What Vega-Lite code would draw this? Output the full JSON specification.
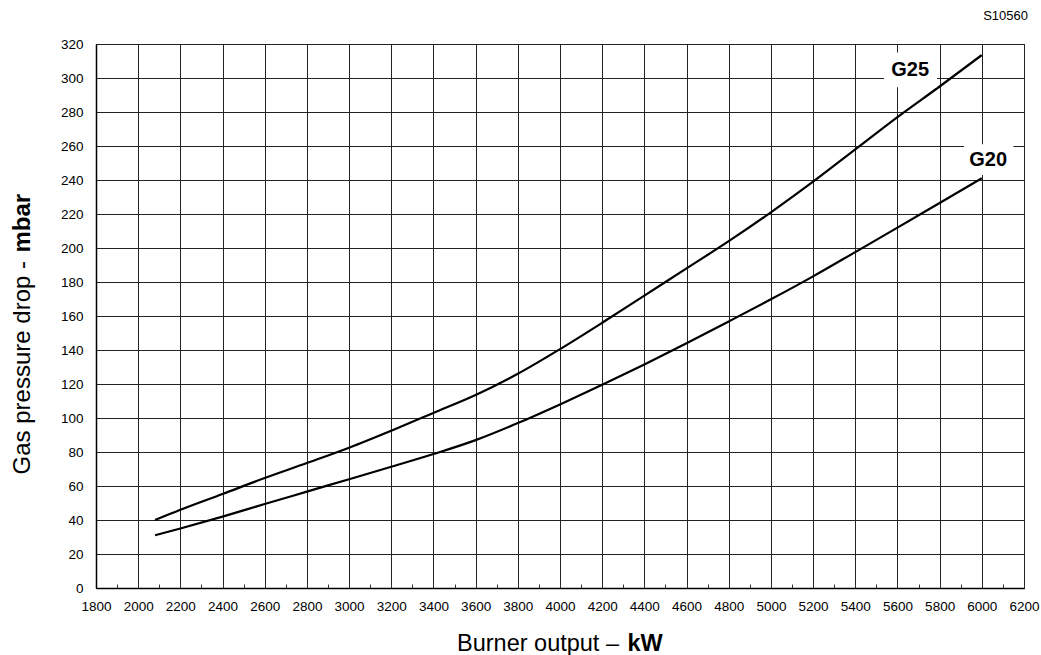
{
  "$schema": "https://vega.github.io/schema/vega-lite/v6.json",
  "autosize": "none",
  "padding": {"left": 96, "top": 44, "right": 17, "bottom": 67},
  "width": 928,
  "height": 544,
  "background": "white",
  "config": {
    "font": "Liberation Sans",
    "view": {"stroke": "black", "strokeWidth": 1}
  },
  "title": {"text": "S10560", "anchor": "end", "frame": "group", "fontSize": 13, "fontWeight": "normal", "offset": 14, "dx": 4, "color": "black", "font": "Liberation Sans"},
  "datasets": {
    "curves": [
      {"series": "G25", "output": 2080, "drop": 40},
      {"series": "G25", "output": 2200, "drop": 46},
      {"series": "G25", "output": 2400, "drop": 55.3},
      {"series": "G25", "output": 2600, "drop": 64.7},
      {"series": "G25", "output": 2800, "drop": 73.5},
      {"series": "G25", "output": 3000, "drop": 82.5},
      {"series": "G25", "output": 3200, "drop": 92.5},
      {"series": "G25", "output": 3400, "drop": 103},
      {"series": "G25", "output": 3600, "drop": 113.5},
      {"series": "G25", "output": 3800, "drop": 126},
      {"series": "G25", "output": 4000, "drop": 140.5},
      {"series": "G25", "output": 4200, "drop": 156},
      {"series": "G25", "output": 4400, "drop": 172},
      {"series": "G25", "output": 4600, "drop": 188},
      {"series": "G25", "output": 4800, "drop": 204},
      {"series": "G25", "output": 5000, "drop": 221},
      {"series": "G25", "output": 5200, "drop": 239},
      {"series": "G25", "output": 5400, "drop": 258},
      {"series": "G25", "output": 5600, "drop": 277},
      {"series": "G25", "output": 5800, "drop": 295},
      {"series": "G25", "output": 6000, "drop": 313.5},
      {"series": "G20", "output": 2080, "drop": 31},
      {"series": "G20", "output": 2200, "drop": 35},
      {"series": "G20", "output": 2400, "drop": 42},
      {"series": "G20", "output": 2600, "drop": 49.4},
      {"series": "G20", "output": 2800, "drop": 56.7},
      {"series": "G20", "output": 3000, "drop": 64},
      {"series": "G20", "output": 3200, "drop": 71.3},
      {"series": "G20", "output": 3400, "drop": 78.8},
      {"series": "G20", "output": 3600, "drop": 87},
      {"series": "G20", "output": 3800, "drop": 97},
      {"series": "G20", "output": 4000, "drop": 108},
      {"series": "G20", "output": 4200, "drop": 119.5},
      {"series": "G20", "output": 4400, "drop": 131.5},
      {"series": "G20", "output": 4600, "drop": 144},
      {"series": "G20", "output": 4800, "drop": 156.8},
      {"series": "G20", "output": 5000, "drop": 169.8},
      {"series": "G20", "output": 5200, "drop": 183.3},
      {"series": "G20", "output": 5400, "drop": 197.6},
      {"series": "G20", "output": 5600, "drop": 212},
      {"series": "G20", "output": 5800, "drop": 226.5},
      {"series": "G20", "output": 6000, "drop": 241}
    ],
    "labels": [
      {"series": "G25", "x": 5660, "y": 305, "x1": 5536, "x2": 5788, "y1": 294.5, "y2": 315},
      {"series": "G20", "x": 6030, "y": 252, "x1": 5916, "x2": 6150, "y1": 243, "y2": 261}
    ]
  },
  "resolve": {"axis": {"x": "independent", "y": "independent"}},
  "layer": [
    {
      "data": {"name": "curves"},
      "mark": {"type": "line", "color": "black", "strokeWidth": 2.2, "interpolate": "monotone"},
      "encoding": {
        "detail": {"field": "series"},
        "x": {
          "field": "output", "type": "quantitative",
          "scale": {"domain": [1800, 6200], "nice": false, "zero": false},
          "axis": {
            "values": [1800,1900,2000,2100,2200,2300,2400,2500,2600,2700,2800,2900,3000,3100,3200,3300,3400,3500,3600,3700,3800,3900,4000,4100,4200,4300,4400,4500,4600,4700,4800,4900,5000,5100,5200,5300,5400,5500,5600,5700,5800,5900,6000,6100,6200],
            "labelExpr": "datum.value % 200 === 0 ? datum.label : ''",
            "format": "d",
            "gridOpacity": {"condition": {"test": "datum.value % 200 !== 0", "value": 0}, "value": 1},
            "grid": true, "gridColor": "#222", "gridWidth": 1,
            "tickSize": -4, "tickColor": "#333",
            "domainColor": "black", "domainWidth": 1.5,
            "labelFontSize": 13.5, "labelColor": "black", "labelPadding": 15, "labelFlush": false,
            "title": "Burner output –", "titleFontSize": 23.5, "titleFontWeight": "normal", "titleColor": "black",
            "titleX": 360.5, "titleY": 62, "titleAlign": "left", "titleBaseline": "alphabetic", "titleAnchor": null
          }
        },
        "y": {
          "field": "drop", "type": "quantitative",
          "scale": {"domain": [0, 320], "nice": false},
          "axis": {
            "values": [0,20,40,60,80,100,120,140,160,180,200,220,240,260,280,300,320],
            "grid": true, "gridColor": "#222", "gridWidth": 1,
            "ticks": false, "domainColor": "black", "domainWidth": 1.5,
            "labelFontSize": 13.5, "labelColor": "black", "labelPadding": 13,
            "title": "Gas pressure drop -", "titleFontSize": 24, "titleFontWeight": "normal", "titleColor": "black",
            "titleX": -66.5, "titleY": 216.5, "titleAngle": -90, "titleAlign": "right", "titleBaseline": "alphabetic"
          }
        }
      }
    },
    {
      "data": {"name": "labels"},
      "mark": {"type": "rect", "fill": "white"},
      "encoding": {
        "x": {"field": "x1", "type": "quantitative", "axis": null},
        "x2": {"field": "x2"},
        "y": {"field": "y1", "type": "quantitative", "axis": null},
        "y2": {"field": "y2"}
      }
    },
    {
      "data": {"name": "labels"},
      "mark": {"type": "text", "fontSize": 20, "fontWeight": "bold", "color": "black", "align": "center", "baseline": "middle"},
      "encoding": {
        "text": {"field": "series"},
        "x": {
          "field": "x", "type": "quantitative",
          "axis": {
            "orient": "top", "labels": false, "ticks": false, "domain": false, "grid": false,
            "title": "kW", "titleFontSize": 23.5, "titleFontWeight": "bold", "titleColor": "black",
            "titleX": 531, "titleY": 606, "titleAngle": 0, "titleAlign": "left", "titleBaseline": "alphabetic"
          }
        },
        "y": {
          "field": "y", "type": "quantitative",
          "axis": {
            "orient": "right", "labels": false, "ticks": false, "domain": false, "grid": false,
            "title": "mbar", "titleFontSize": 24, "titleFontWeight": "bold", "titleColor": "black",
            "titleX": -994.5, "titleY": 208, "titleAngle": -90, "titleAlign": "left", "titleBaseline": "alphabetic"
          }
        }
      }
    }
  ]
}
